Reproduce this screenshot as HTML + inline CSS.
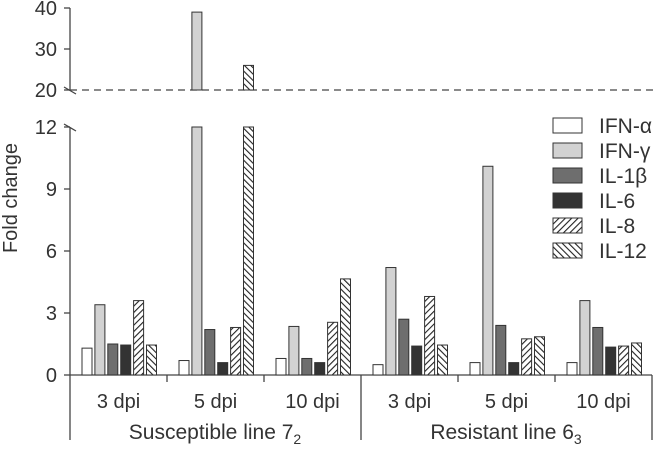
<!DOCTYPE html>
<html><head><meta charset="utf-8"><style>
html,body{margin:0;padding:0;background:#fff}
svg text{font-family:"Liberation Sans",sans-serif;fill:#333}
</style></head><body>
<svg width="656" height="446" viewBox="0 0 656 446">
<defs>
<pattern id="hf" patternUnits="userSpaceOnUse" width="4.5" height="4.5" patternTransform="rotate(45)"><rect width="4.5" height="4.5" fill="#fff"/><line x1="0" y1="0" x2="0" y2="4.5" stroke="#222" stroke-width="2.2"/></pattern>
<pattern id="hb" patternUnits="userSpaceOnUse" width="4.5" height="4.5" patternTransform="rotate(-45)"><rect width="4.5" height="4.5" fill="#fff"/><line x1="0" y1="0" x2="0" y2="4.5" stroke="#222" stroke-width="2.2"/></pattern>
</defs>
<g id="axes" stroke="#444" stroke-width="1.3" fill="none"></g>
<g id="bars"></g>
<g id="labels"></g>
</svg>
<script>
const groups=["3 dpi","5 dpi","10 dpi","3 dpi","5 dpi","10 dpi"];
const series=["IFN-α","IFN-γ","IL-1β","IL-6","IL-8","IL-12"];
const ifnA=[1.3,0.7,0.8,0.5,0.6,0.6];
const ifnG=[3.4,39,2.35,5.2,10.1,3.6];
const il1b=[1.5,2.2,0.8,2.7,2.4,2.3];
const il6=[1.45,0.6,0.6,1.4,0.6,1.35];
const il8=[3.6,2.3,2.55,3.8,1.75,1.4];
const il12=[1.45,26,4.65,1.45,1.85,1.55];
const lowTicks=[0,3,6,9,12];
const highTicks=[20,30,40];
const lines=["Susceptible line 7","Resistant line 6"];
const subs=["2","3"];
const vals=[ifnA,ifnG,il1b,il6,il8,il12];
const fills=["#fff","#d2d2d2","#6e6e6e","#333","url(#hf)","url(#hb)"];
const NS="http://www.w3.org/2000/svg";
function mk(t,a,p){const e=document.createElementNS(NS,t);for(const k in a)e.setAttribute(k,a[k]);p.appendChild(e);return e;}
const yLow=v=>375-v*248/12;
const yHigh=v=>90-(v-20)*82/20;
const gx=i=>82+i*97;
const ax=document.getElementById('axes'),bg=document.getElementById('bars'),lg=document.getElementById('labels');
mk('line',{x1:70,y1:8,x2:70,y2:90},ax);
mk('line',{x1:70,y1:127,x2:70,y2:440},ax);
mk('line',{x1:70,y1:375,x2:652,y2:375},ax);
mk('line',{x1:70,y1:90,x2:656,y2:90,'stroke-dasharray':'7,5'},ax);
mk('line',{x1:64,y1:87,x2:76,y2:94},ax);
mk('line',{x1:64,y1:124,x2:76,y2:131},ax);
for(let i=1;i<=6;i++){const x=70+i*97;mk('line',{x1:x,y1:375,x2:x,y2:(i==3||i==6)?440:382},ax);}
lowTicks.forEach(v=>{const y=yLow(v);mk('line',{x1:64,y1:y,x2:70,y2:y},ax);const t=mk('text',{x:57,y:y+7,'text-anchor':'end','font-size':20},lg);t.textContent=v;

});
highTicks.forEach(v=>{const y=yHigh(v);mk('line',{x1:64,y1:y,x2:70,y2:y},ax);const t=mk('text',{x:57,y:y+7,'text-anchor':'end','font-size':20},lg);t.textContent=v;

});
const yt=mk('text',{x:0,y:0,transform:'translate(17,198) rotate(-90)','text-anchor':'middle','font-size':20},lg);yt.textContent="Fold change";


groups.forEach((g,gi)=>{
 vals.forEach((arr,si)=>{
  const v=arr[gi],x=gx(gi)+si*12.9;
  const a={x:x,width:10,fill:fills[si],stroke:'#333','stroke-width':1};
  if(v>12){
   const r1=mk('rect',Object.assign({},a,{y:yLow(12),height:375-yLow(12)}),bg);
   
   
   const r2=mk('rect',Object.assign({},a,{y:yHigh(v),height:90-yHigh(v)}),bg);
   
   
  }else{
   const r=mk('rect',Object.assign({},a,{y:yLow(v),height:375-yLow(v)}),bg);
   
   
  }
 });
 const t=mk('text',{x:70+gi*97+48.5,y:408,'text-anchor':'middle','font-size':20},lg);t.textContent=g;
 
 
});
lines.forEach((l,i)=>{
 const t=mk('text',{x:215+i*291,y:439,'text-anchor':'middle','font-size':21},lg);
 t.textContent=l;
 const s=mk('tspan',{dy:5,'font-size':14},t);s.textContent=subs[i];
 
 
});
series.forEach((s,i)=>{
 const y=118+i*25;
 const r=mk('rect',{x:553,y:y,width:29,height:15,fill:fills[i],stroke:'#333','stroke-width':1},lg);
 
 
 const t=mk('text',{x:599,y:y+15,'font-size':21},lg);t.textContent=s;
 
 
});
</script>
</body></html>
